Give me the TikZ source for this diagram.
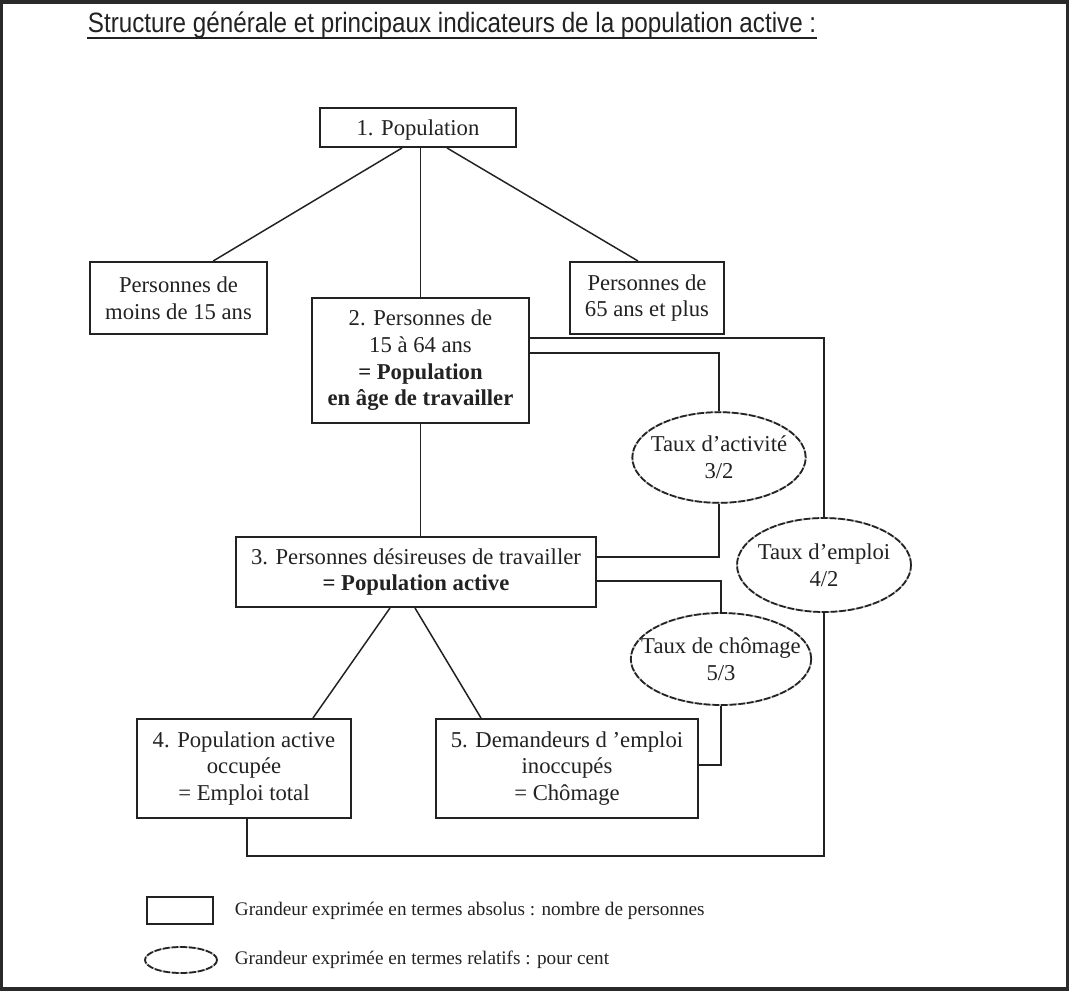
\documentclass[tikz,border=0pt]{standalone}
\usepackage{fontspec}
\setmainfont{Liberation Serif}
\newfontfamily\titlefont[FakeStretch=0.865]{Liberation Sans}
\usetikzlibrary{shapes.geometric,positioning}
\definecolor{ink}{HTML}{222222}
\definecolor{frame}{HTML}{2A2A2A}
\begin{document}
\begin{tikzpicture}[x=0.75pt, y=-0.75pt, color=ink, line width=1.4pt,
        box shape/.style={rectangle, draw, line width=1.5pt, align=center, inner sep=0pt, font=\fontsize{17}{20}\selectfont},
        box node/.style={box shape, execute at begin node={\rule{0pt}{15.5pt}}},
        rate shape/.style={ellipse, draw=gray!60, line width=1.3pt, align=center, inner xsep=-12pt, inner ysep=0pt, font=\fontsize{17}{20}\selectfont,
            postaction={draw=ink, line width=1.3pt, dash pattern=on 5pt off 1.5pt}},
        rate node/.style={rate shape, execute at begin node={\rule{0pt}{19pt}}},
        key text/.style={inner sep=0pt, font=\fontsize{14.4}{17}\selectfont}]
    \fill[frame] (0,0) rectangle (1069,991);
    \fill[white] (3,4) rectangle (1066,987);
    \node[anchor=base west, inner sep=0pt, font=\titlefont\fontsize{21}{25}\selectfont] (title) at (87,33) {Structure générale et principaux indicateurs de la population active :};
    \draw[line width=1.5pt] ([yshift=-3.5pt]title.base west) -- ([yshift=-3.5pt]title.base east);
    \node[box node, minimum width=147pt, minimum height=29.25pt] (1) at (418,127.5) {1. Population};
    \node[box node, minimum width=132.75pt, minimum height=54pt] (moins) at (178.5,298) {Personnes de\\moins de 15 ans};
    \node[box node, minimum width=115.5pt, minimum height=54pt] (plus) at (647,298) {Personnes de\\65 ans et plus};
    \node[box node, minimum width=162.75pt, minimum height=93.75pt] (2) at (420.5,360.5) {2. Personnes de\\15 à 64 ans\\\textbf{= Population}\\\textbf{en âge de travailler}};
    \node[box node, minimum width=270pt, minimum height=52.5pt] (3) at (416,572) {3. Personnes désireuses de travailler\\\textbf{= Population active}};
    \node[box node, minimum width=160.5pt, minimum height=74.25pt] (4) at (244,768.5) {4. Population active\\occupée\\= Emploi total};
    \node[box node, minimum width=196.5pt, minimum height=74.25pt] (5) at (567,768.5) {5. Demandeurs d ’emploi\\inoccupés\\= Chômage};
    \node[rate node, minimum width=130pt, minimum height=68pt] (act) at (719,457.5) {Taux d’activité\\3/2};
    \node[rate node, minimum width=130.5pt, minimum height=70.5pt] (emp) at (824,565) {Taux d’emploi\\4/2};
    \node[rate node, minimum width=133.5pt, minimum height=69pt] (chom) at (721,659) {Taux de chômage\\5/3};
    \draw[line width=1.1pt] ([xshift=-12pt]1.south) -- ([xshift=26pt]moins.north);
    \draw (1.south -| 2.north) -- (2.north);
    \draw[line width=1.1pt] ([xshift=21.75pt]1.south) -- ([xshift=-6.75pt]plus.north);
    \draw (2.south) -- (2.south |- 3.north);
    \draw ([yshift=-30.75pt]2.north east) -| (emp.north);
    \draw ([yshift=-42pt]2.north east) -| (act.north);
    \draw (act.south) |- ([yshift=-15.75pt]3.north east);
    \draw ([yshift=-33.75pt]3.north east) -| (chom.north);
    \draw (chom.south) |- ([yshift=-35.25pt]5.north east);
    \coordinate (c4) at ([xshift=2.25pt,yshift=-27.75pt]4.south);
    \draw (emp.south) |- (c4) -- (c4 |- 4.south);
    \draw[line width=1.1pt] ([xshift=-19.5pt]3.south) -- ([xshift=51.75pt]4.north);
    \draw[line width=1.1pt] ([xshift=-0.75pt]3.south) -- ([xshift=-64.5pt]5.north);
    \node[box shape, minimum width=49.5pt, minimum height=20.25pt] (keybox) at (180,910.5) {};
    \node[rate shape, inner sep=0pt, minimum width=54pt, minimum height=19.5pt] (keyell) at (181,960) {};
    \node[key text, right=15pt of keybox] (keytxt1) {Grandeur exprimée en termes absolus : nombre de personnes};
    \node[key text, right=12pt of keyell] (keytxt2) {Grandeur exprimée en termes relatifs : pour cent};
\end{tikzpicture}
\end{document}
